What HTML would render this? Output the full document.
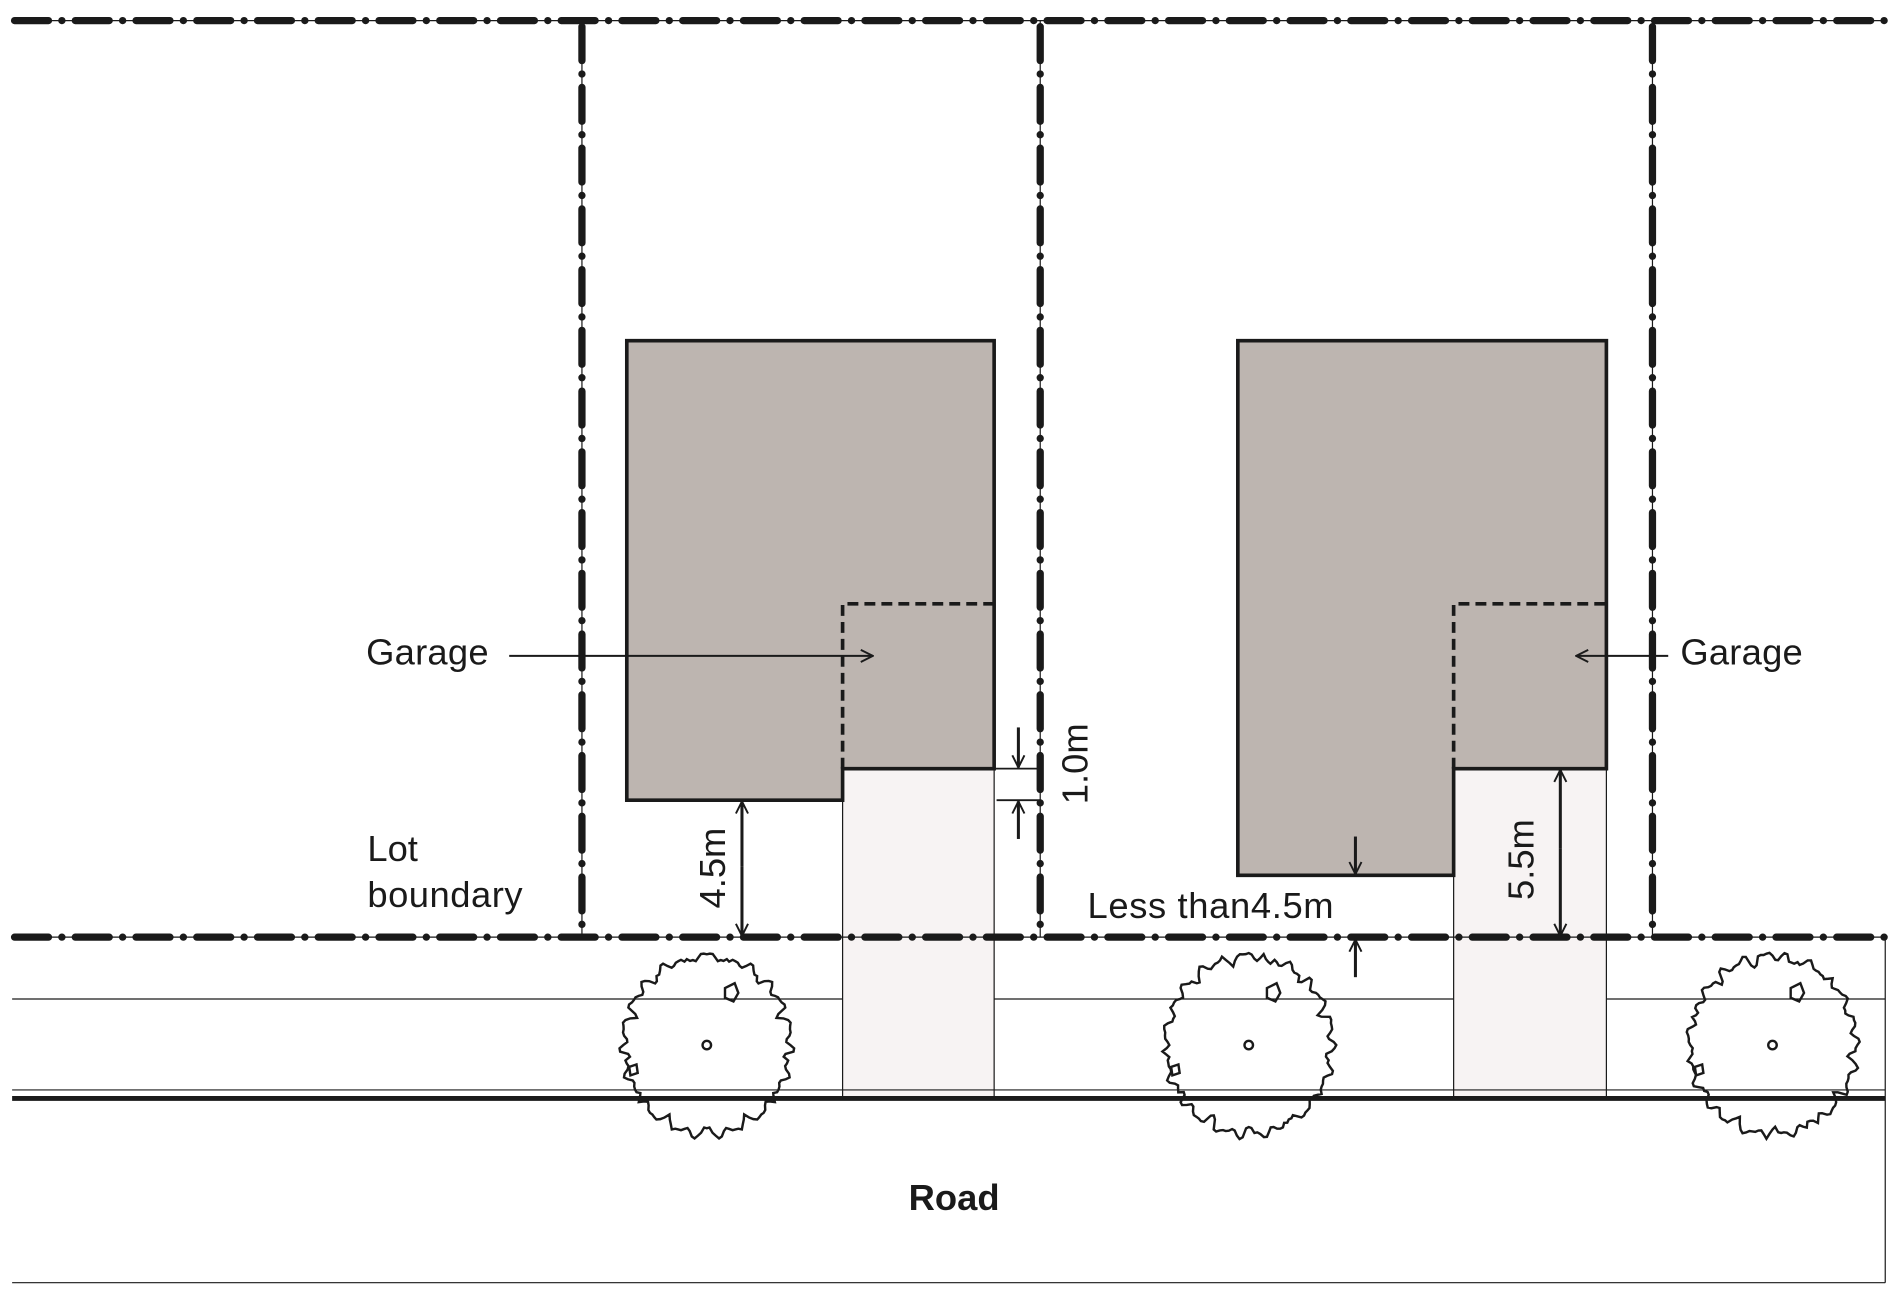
<!DOCTYPE html>
<html><head><meta charset="utf-8"><style>
html,body{margin:0;padding:0;background:#fff;}
svg{display:block}
text{font-family:"Liberation Sans",Arial,sans-serif;fill:#1a1a1a;}
</style></head><body>
<svg id="s" width="1901" height="1305" viewBox="0 0 1568 1076.4" preserveAspectRatio="none" xmlns="http://www.w3.org/2000/svg">
<defs>
<marker id="ah" viewBox="0 0 12 12" refX="11" refY="6" markerWidth="12" markerHeight="12" markerUnits="userSpaceOnUse" orient="auto">
<path d="M1,1 L11,6 L1,11" fill="none" stroke="#1a1a1a" stroke-width="1.6"/>
</marker>
</defs>
<rect x="695" y="634" width="125" height="272" fill="#f7f3f3" stroke="#1a1a1a" stroke-width="1"/>
<rect x="1199" y="634" width="126" height="272" fill="#f7f3f3" stroke="#1a1a1a" stroke-width="1"/>
<g stroke="#1a1a1a" stroke-width="1">
<line x1="10" y1="824" x2="695" y2="824"/>
<line x1="820" y1="824" x2="1199" y2="824"/>
<line x1="1325" y1="824" x2="1555" y2="824"/>
<line x1="10" y1="899" x2="1555" y2="899"/>
<line x1="1555" y1="773" x2="1555" y2="1058"/>
<line x1="10" y1="1058" x2="1555" y2="1058"/>
</g>
<line x1="10" y1="906" x2="1555" y2="906" stroke="#1a1a1a" stroke-width="4"/>
<g stroke="#1a1a1a" fill="none">
<g stroke-width="1">
<line x1="10" y1="17" x2="1555" y2="17"/>
<line x1="10" y1="773" x2="1555" y2="773"/>
<line x1="480" y1="17" x2="480" y2="773"/>
<line x1="858" y1="17" x2="858" y2="773"/>
<line x1="1363" y1="17" x2="1363" y2="773"/>
</g>
<g stroke-width="6" stroke-linecap="round" stroke-dasharray="28 11 0.1 11">
<line x1="12" y1="17" x2="1555" y2="17"/>
<line x1="12" y1="773" x2="1555" y2="773"/>
<line x1="480" y1="22" x2="480" y2="773"/>
<line x1="858" y1="22" x2="858" y2="773"/>
<line x1="1363" y1="22" x2="1363" y2="773"/>
</g>
</g>
<path d="M517,281 H820 V634 H695 V660 H517 Z" fill="#bdb5b0" stroke="#1a1a1a" stroke-width="3"/>
<path d="M1021,281 H1325 V634 H1199 V722 H1021 Z" fill="#bdb5b0" stroke="#1a1a1a" stroke-width="3"/>
<path d="M695,634 V498 H820" fill="none" stroke="#1a1a1a" stroke-width="3" stroke-dasharray="9 5"/>
<path d="M1199,634 V498 H1325" fill="none" stroke="#1a1a1a" stroke-width="3" stroke-dasharray="9 5"/>
<g id="trees" fill="none" stroke="#1a1a1a" stroke-width="2">
<circle cx="583" cy="862" r="3.5"/>
<circle cx="1030" cy="862" r="3.5"/>
<circle cx="1462" cy="862" r="3.5"/>
<path d="M598,815 l8,-4 l3,8 l-4,7 l-7,-3 z M519,880 l6,-2 l1,7 l-6,2z"/>
<path d="M1045,815 l8,-4 l3,8 l-4,7 l-7,-3 z M966,880 l6,-2 l1,7 l-6,2z"/>
<path d="M1477,815 l8,-4 l3,8 l-4,7 l-7,-3 z M1398,880 l6,-2 l1,7 l-6,2z"/>
</g>
<g stroke="#1a1a1a" fill="none">
<line x1="420" y1="541" x2="720" y2="541" stroke-width="1.6" marker-end="url(#ah)"/>
<line x1="1376" y1="541" x2="1300" y2="541" stroke-width="1.6" marker-end="url(#ah)"/>
<line x1="612" y1="715" x2="612" y2="661" stroke-width="2.5" marker-end="url(#ah)"/>
<line x1="612" y1="715" x2="612" y2="772" stroke-width="2.5" marker-end="url(#ah)"/>
<line x1="1287" y1="700" x2="1287" y2="635" stroke-width="2.5" marker-end="url(#ah)"/>
<line x1="1287" y1="700" x2="1287" y2="772" stroke-width="2.5" marker-end="url(#ah)"/>
<line x1="840" y1="600" x2="840" y2="633" stroke-width="2.5" marker-end="url(#ah)"/>
<line x1="840" y1="692" x2="840" y2="661" stroke-width="2.5" marker-end="url(#ah)"/>
<line x1="820" y1="634" x2="858" y2="634" stroke-width="1.5"/>
<line x1="822" y1="660" x2="858" y2="660" stroke-width="1.5"/>
<line x1="1118" y1="690" x2="1118" y2="721" stroke-width="2.5" marker-end="url(#ah)"/>
<line x1="1118" y1="806" x2="1118" y2="775" stroke-width="2.5" marker-end="url(#ah)"/>
</g>
<g font-size="30">
<text x="302" y="548" textLength="101">Garage</text>
<text x="1386" y="548" textLength="101">Garage</text>
<text x="303" y="710">Lot</text>
<text x="303" y="748" textLength="128">boundary</text>
<text x="897" y="757" textLength="203">Less than4.5m</text>
<text transform="translate(598,716) rotate(-90)" text-anchor="middle">4.5m</text>
<text transform="translate(897,630) rotate(-90)" text-anchor="middle">1.0m</text>
<text transform="translate(1265,709) rotate(-90)" text-anchor="middle">5.5m</text>
<text x="787" y="998" font-weight="bold" text-anchor="middle">Road</text>
</g>
</svg>
<script>
(function(){
var g=document.getElementById('trees');
[[583,862],[1030,862],[1462,862]].forEach(function(c,k){
 var d='',n=180;
 for(var i=0;i<=n;i++){
  var a=i/n*Math.PI*2;
  var r=71+2.5*Math.sin(a*23+k)+1.5*Math.sin(a*41+2*k)+ (Math.sin(a*13)>0.85?-4:0);
  var x=c[0]+r*Math.cos(a)*0.97, y=c[1]+r*Math.sin(a)*1.04;
  d+=(i?'L':'M')+x.toFixed(1)+','+y.toFixed(1);
 }
 var p=document.createElementNS('http://www.w3.org/2000/svg','path');
 p.setAttribute('d',d+'Z');g.appendChild(p);
});
})();
</script>
</body></html>
